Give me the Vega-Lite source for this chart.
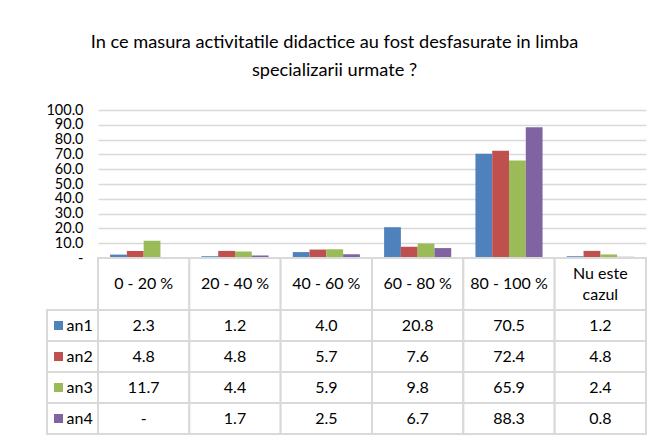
{
  "$schema": "https://vega.github.io/schema/vega-lite/v6.json",
  "background": "white",
  "padding": {"left": 45, "top": 32, "right": 20, "bottom": 4},
  "title": {
    "text": ["In ce masura activitatile didactice au fost desfasurate in limba", "specializarii urmate ?"],
    "font": "Lato",
    "fontSize": 18.2,
    "fontWeight": "normal",
    "color": "#000000",
    "lineHeight": 28,
    "anchor": "middle",
    "offset": 22,
    "dx": -12
  },
  "datasets": {
    "vals": [
      {"series": "an1", "cat": "0 - 20 %", "value": 2.3},
      {"series": "an1", "cat": "20 - 40 %", "value": 1.2},
      {"series": "an1", "cat": "40 - 60 %", "value": 4.0},
      {"series": "an1", "cat": "60 - 80 %", "value": 20.8},
      {"series": "an1", "cat": "80 - 100 %", "value": 70.5},
      {"series": "an1", "cat": "Nu este cazul", "value": 1.2},
      {"series": "an2", "cat": "0 - 20 %", "value": 4.8},
      {"series": "an2", "cat": "20 - 40 %", "value": 4.8},
      {"series": "an2", "cat": "40 - 60 %", "value": 5.7},
      {"series": "an2", "cat": "60 - 80 %", "value": 7.6},
      {"series": "an2", "cat": "80 - 100 %", "value": 72.4},
      {"series": "an2", "cat": "Nu este cazul", "value": 4.8},
      {"series": "an3", "cat": "0 - 20 %", "value": 11.7},
      {"series": "an3", "cat": "20 - 40 %", "value": 4.4},
      {"series": "an3", "cat": "40 - 60 %", "value": 5.9},
      {"series": "an3", "cat": "60 - 80 %", "value": 9.8},
      {"series": "an3", "cat": "80 - 100 %", "value": 65.9},
      {"series": "an3", "cat": "Nu este cazul", "value": 2.4},
      {"series": "an4", "cat": "0 - 20 %", "value": 0},
      {"series": "an4", "cat": "20 - 40 %", "value": 1.7},
      {"series": "an4", "cat": "40 - 60 %", "value": 2.5},
      {"series": "an4", "cat": "60 - 80 %", "value": 6.7},
      {"series": "an4", "cat": "80 - 100 %", "value": 88.3},
      {"series": "an4", "cat": "Nu este cazul", "value": 0.8}
    ],
    "cats": [
      {"cat": "0 - 20 %", "label": "0 - 20 %", "lines": 1},
      {"cat": "20 - 40 %", "label": "20 - 40 %", "lines": 1},
      {"cat": "40 - 60 %", "label": "40 - 60 %", "lines": 1},
      {"cat": "60 - 80 %", "label": "60 - 80 %", "lines": 1},
      {"cat": "80 - 100 %", "label": "80 - 100 %", "lines": 1},
      {"cat": "Nu este cazul", "label": "Nu este\ncazul", "lines": 2}
    ],
    "series": [
      {"series": "an1"},
      {"series": "an2"},
      {"series": "an3"},
      {"series": "an4"}
    ]
  },
  "columns": 2,
  "spacing": 0,
  "bounds": "flush",
  "align": "each",
  "resolve": {"scale": {"x": "independent", "y": "independent", "xOffset": "independent"}},
  "config": {
    "view": {"stroke": null},
    "font": "Lato"
  },
  "concat": [
    {
      "width": 51,
      "height": 148,
      "data": {"values": [{}]},
      "mark": {"type": "text", "text": ""},
      "encoding": {}
    },
    {
      "width": 548,
      "height": 148,
      "data": {"name": "vals"},
      "mark": {"type": "bar"},
      "encoding": {
        "x": {
          "field": "cat", "type": "nominal",
          "sort": ["0 - 20 %", "20 - 40 %", "40 - 60 %", "60 - 80 %", "80 - 100 %", "Nu este cazul"],
          "scale": {"paddingInner": 0.265, "paddingOuter": 0.1325},
          "axis": null
        },
        "xOffset": {
          "field": "series", "type": "nominal",
          "scale": {"paddingInner": 0, "paddingOuter": 0}
        },
        "y": {
          "field": "value", "type": "quantitative",
          "scale": {"domain": [0, 100], "nice": false},
          "axis": {
            "values": [0, 10, 20, 30, 40, 50, 60, 70, 80, 90, 100],
            "labelExpr": "datum.value === 0 ? '-' : format(datum.value, '.1f')",
            "ticks": false,
            "domain": false,
            "labelPadding": 15,
            "labelOverlap": false,
            "labelFont": "Lato",
            "labelFontSize": 14.5,
            "labelColor": "#000000",
            "gridColor": "#d9d9d9",
            "gridWidth": 1.5,
            "title": null
          }
        },
        "color": {
          "field": "series", "type": "nominal",
          "scale": {"domain": ["an1", "an2", "an3", "an4"], "range": ["#4F81BD", "#C0504D", "#9BBB59", "#8064A2"]},
          "legend": null
        }
      }
    },
    {
      "width": 51,
      "height": 52,
      "data": {"values": [{}]},
      "mark": {"type": "text", "text": ""},
      "encoding": {}
    },
    {
      "width": 548,
      "height": 52,
      "data": {"name": "cats"},
      "encoding": {
        "x": {
          "field": "cat", "type": "nominal",
          "sort": ["0 - 20 %", "20 - 40 %", "40 - 60 %", "60 - 80 %", "80 - 100 %", "Nu este cazul"],
          "scale": {"paddingInner": 0, "paddingOuter": 0},
          "axis": null
        }
      },
      "layer": [
        {"mark": {"type": "rect", "fill": "white", "stroke": "#d9d9d9", "strokeWidth": 2}},
        {
          "transform": [{"filter": "datum.lines === 1"}],
          "mark": {"type": "text", "fontSize": 16, "color": "#000000"},
          "encoding": {"text": {"field": "label"}}
        },
        {
          "transform": [{"filter": "datum.lines === 2"}],
          "mark": {"type": "text", "fontSize": 16, "lineBreak": "\n", "lineHeight": 21, "dy": -10.5, "color": "#000000"},
          "encoding": {"text": {"field": "label"}}
        }
      ]
    },
    {
      "width": 51,
      "height": 124,
      "data": {"name": "series"},
      "encoding": {
        "y": {
          "field": "series", "type": "nominal",
          "scale": {"paddingInner": 0, "paddingOuter": 0},
          "axis": null
        }
      },
      "layer": [
        {"mark": {"type": "rect", "fill": "white", "stroke": "#d9d9d9", "strokeWidth": 2}},
        {
          "mark": {"type": "point", "shape": "square", "filled": true, "opacity": 1, "size": 81, "xOffset": -14},
          "encoding": {
            "color": {
              "field": "series", "type": "nominal",
              "scale": {"domain": ["an1", "an2", "an3", "an4"], "range": ["#4F81BD", "#C0504D", "#9BBB59", "#8064A2"]},
              "legend": null
            }
          }
        },
        {
          "mark": {"type": "text", "fontSize": 16, "align": "left", "dx": -6, "color": "#000000"},
          "encoding": {"text": {"field": "series"}}
        }
      ]
    },
    {
      "width": 548,
      "height": 124,
      "data": {"name": "vals"},
      "encoding": {
        "x": {
          "field": "cat", "type": "nominal",
          "sort": ["0 - 20 %", "20 - 40 %", "40 - 60 %", "60 - 80 %", "80 - 100 %", "Nu este cazul"],
          "scale": {"paddingInner": 0, "paddingOuter": 0},
          "axis": null
        },
        "y": {
          "field": "series", "type": "nominal",
          "scale": {"paddingInner": 0, "paddingOuter": 0},
          "axis": null
        }
      },
      "layer": [
        {"mark": {"type": "rect", "fill": "white", "stroke": "#d9d9d9", "strokeWidth": 2}},
        {
          "mark": {"type": "text", "fontSize": 16, "color": "#000000"},
          "encoding": {
            "text": {
              "condition": {"test": "datum.value === 0", "value": "-"},
              "field": "value", "type": "quantitative", "format": ".1f"
            }
          }
        }
      ]
    }
  ]
}
